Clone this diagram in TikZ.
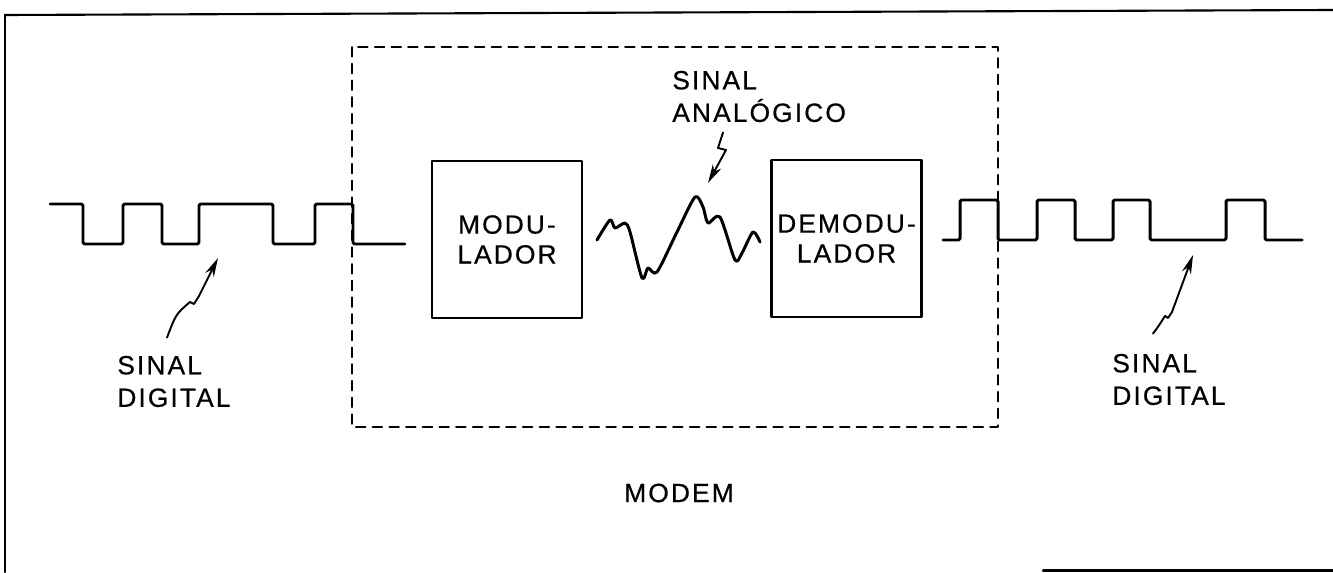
\documentclass[tikz,border=0pt]{standalone}
\usepackage{fontspec}
\newfontfamily\diagfont[LetterSpace=8,FakeBold=0.6]{Liberation Sans}
\usetikzlibrary{arrows.meta}

\begin{document}
\begin{tikzpicture}[x=0.02cm,y=0.02cm,>=Stealth,line cap=round,line join=round]

% Styles
\tikzset{
  sigtext/.style={font=\diagfont\fontsize{15}{18.5}\selectfont,inner sep=0pt,align=left},
  boxtext/.style={font=\diagfont\fontsize{15}{17}\selectfont,align=center},
  blockbox/.style={boxtext,draw,line width=1.6pt,minimum width=3cm,minimum height=3.14cm},
  wave/.style={line width=1.7pt,rounded corners=0.8pt},
  sigarrow/.style={line width=1.1pt,-{Stealth[length=0.38cm,width=0.19cm]}}
}

\useasboundingbox (0,0) rectangle (1333,572);

% Page frame
\draw[line width=1.2pt] (5,557) -- (1333,562);
\draw[line width=1.2pt] (5,557) -- (5,0);
\draw[line width=1.2pt] (1043,1.5) -- (1333,1.5);

% Modem outline
\draw[line width=1pt,dash pattern=on 5.5pt off 4pt] (352,525) rectangle (998,145);

% Blocks
\node[blockbox] (mod) at (507,332.5) {MODU-\\LADOR};
\node[blockbox] (demod) at (846.5,333.5) {DEMODU-\\LADOR};

% Digital input signal
\draw[wave] (50,368) -- (83,368) -- (83,328) -- (123,328) -- (123,368) -- (162,368)
  -- (162,328) -- (199,328) -- (199,368) -- (273,368) -- (273,328) -- (315,328)
  -- (315,368) -- (353,368) -- (353,328) -- (405,328);

% Digital output signal
\draw[wave] (943,332) -- (960,332) -- (960,372) -- (998,372) -- (998,332) -- (1037,332)
  -- (1037,372) -- (1075,372) -- (1075,332) -- (1113,332) -- (1113,372) -- (1150,372)
  -- (1150,332) -- (1226,332) -- (1226,372) -- (1265,372) -- (1265,332) -- (1302,332);

% Analog signal between the blocks
\draw[line width=1.7pt] plot[smooth,tension=0.45] coordinates {
  (597,332) (610,352) (615,344) (625,349) (630,340) (642,294) (648,304) (657,300)
  (677,340) (695,375) (703,365) (708,349) (720,355) (735,312) (742,319) (753,340) (760,330)};

% Labels
\node[sigtext,anchor=west] (ldig) at (117,190.5) {SINAL\\DIGITAL};
\node[sigtext,anchor=west] (rdig) at (1112,192.5) {SINAL\\DIGITAL};
\node[sigtext,anchor=west] (alab) at (672,475.5) {SINAL\\ANALÓGICO};
\node[sigtext] (modem) at (679,79) {MODEM};

% Arrow tips on the signals
\coordinate (ltip) at (218,314);
\coordinate (rtip) at (1193,317);
\coordinate (atip) at (708,389);

% Pointer arrows
\draw[sigarrow] ([shift={(50,18)}]ldig.north west) .. controls (176,258) .. (190,270)
  -- (194,268) -- (199,276) -- (ltip);
\draw[sigarrow] ([shift={(41,20)}]rdig.north west) .. controls (1158,245) .. (1165,256)
  -- (1168,254) -- (1172,260) -- (rtip);
\draw[sigarrow] ([shift={(51,-10)}]alab.south west) -- (718,424) -- (726,422) -- (atip);

\end{tikzpicture}
\end{document}
